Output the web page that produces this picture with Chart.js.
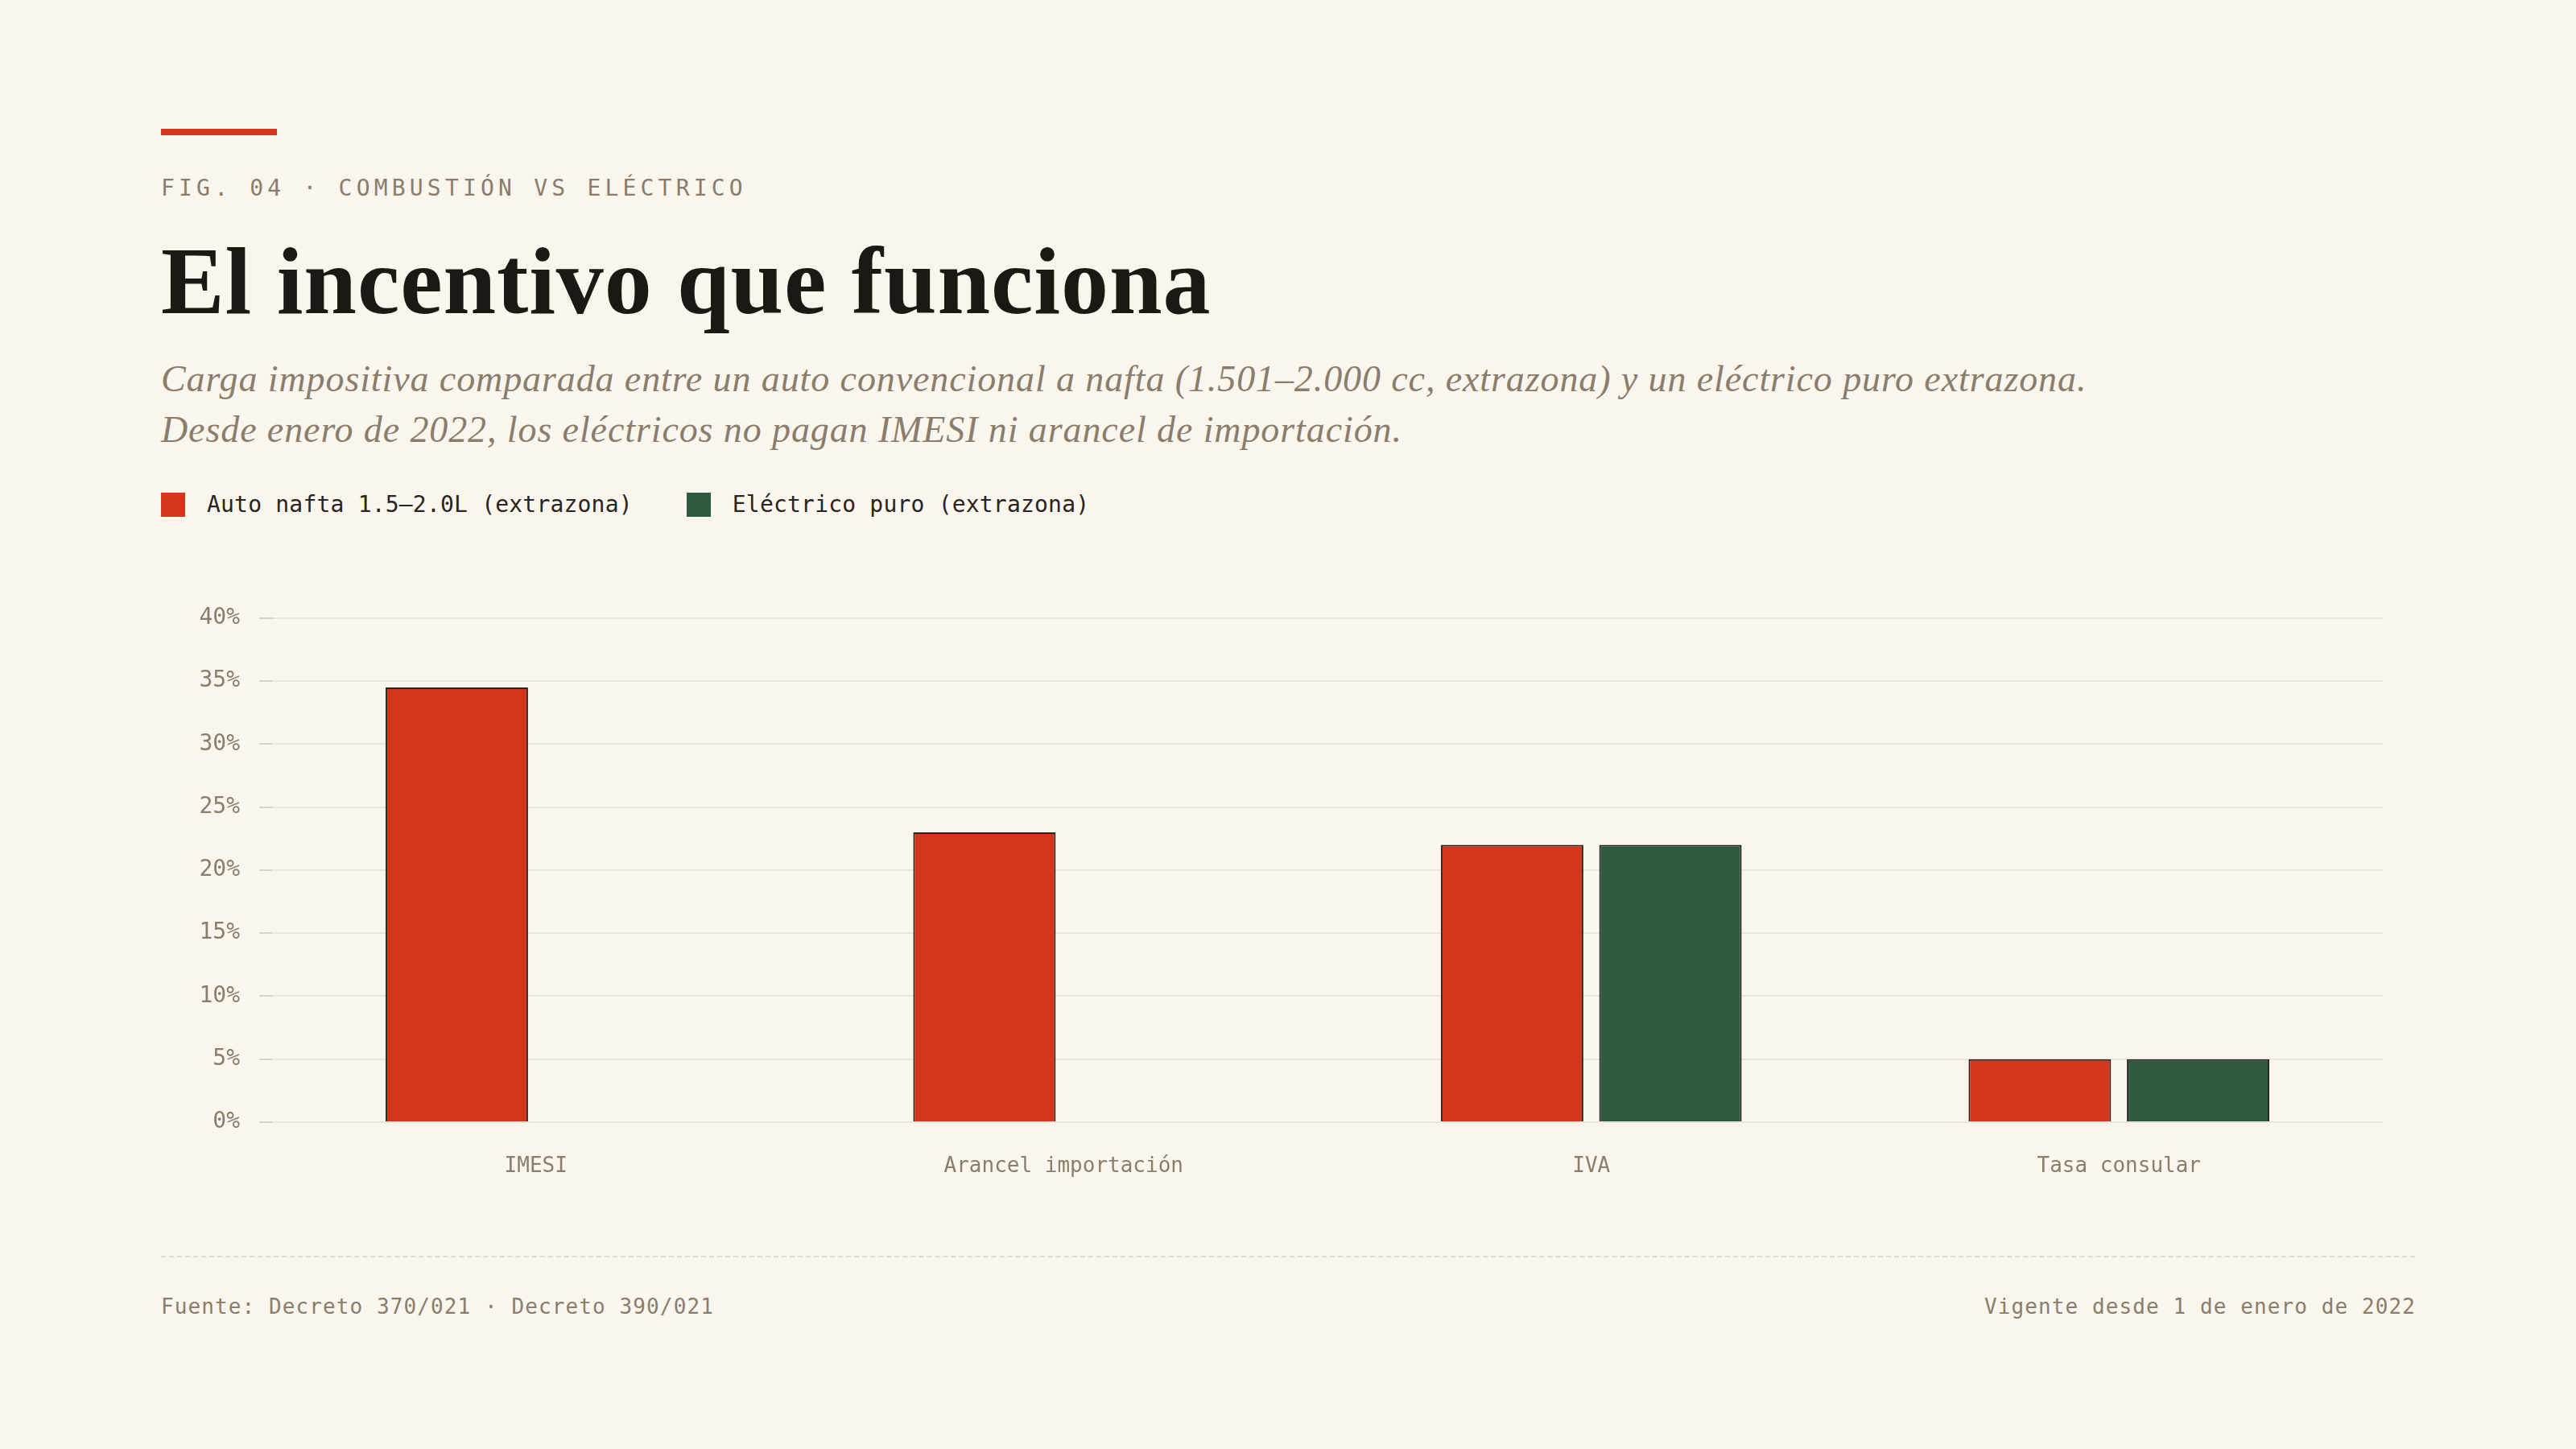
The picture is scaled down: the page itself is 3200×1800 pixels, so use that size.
<!DOCTYPE html>
<html lang="es">
<head>
<meta charset="utf-8">
<title>El incentivo que funciona</title>
<script src="https://cdn.jsdelivr.net/npm/chart.js@4.4.1/dist/chart.umd.min.js"></script>
<style>
  html, body { margin: 0; padding: 0; background: #faf6ee; }
  #page { position: relative; width: 3200px; height: 1800px; background: #faf6ee; overflow: hidden; }
  .accent { position: absolute; left: 200px; top: 160px; width: 144px; height: 8px; background: #d4361c; }
  .kicker { position: absolute; left: 200px; top: 220px; font: 28px/28px "DejaVu Sans Mono", monospace; letter-spacing: 5.2px; color: #8a7d6b; white-space: nowrap; }
  h1 { position: absolute; left: 200px; top: 291px; margin: 0; font: bold 118px/118px "Liberation Serif", serif; letter-spacing: 0.9px; color: #1c1814; white-space: nowrap; }
  .sub { position: absolute; left: 200px; top: 439px; margin: 0; font: italic 46px/63px "Liberation Serif", serif; letter-spacing: 0.9px; color: #8a7d6b; white-space: nowrap; }
  #legend { position: absolute; left: 200px; top: 612px; height: 30px; display: flex; align-items: center; font: 28px/30px "DejaVu Sans Mono", monospace; letter-spacing: 0.2px; color: #2a2420; white-space: nowrap; }
  #legend .item { display: flex; align-items: center; margin-right: 67px; }
  #legend .box { width: 30px; height: 30px; margin-right: 27px; }
  #chartWrap { position: absolute; left: 200px; top: 727px; width: 2800px; height: 748px; }
  .rule { position: absolute; left: 200px; top: 1560px; width: 2800px; border-top: 2px dashed #e2dbcf; }
  .foot { position: absolute; top: 1610px; font: 26px/26px "DejaVu Sans Mono", monospace; letter-spacing: 1.1px; color: #8a7d6b; white-space: nowrap; }
</style>
</head>
<body>
<div id="page">
  <div class="accent"></div>
  <div class="kicker">FIG. 04 · COMBUSTIÓN VS ELÉCTRICO</div>
  <h1>El incentivo que funciona</h1>
  <p class="sub">Carga impositiva comparada entre un auto convencional a nafta (1.501–2.000 cc, extrazona) y un eléctrico puro extrazona.<br>Desde enero de 2022, los eléctricos no pagan IMESI ni arancel de importación.</p>
  <div id="legend"></div>
  <div id="chartWrap"><canvas id="taxChart"></canvas></div>
  <div class="rule"></div>
  <div class="foot" style="left:200px">Fuente: Decreto 370/021 · Decreto 390/021</div>
  <div class="foot" style="right:199px">Vigente desde 1 de enero de 2022</div>
</div>
<script>
// impuestos (% sobre valor)
const categories = ['IMESI', 'Arancel importación', 'IVA', 'Tasa consular'];
const naftaValues = [34.5, 23, 22, 5];
const electricoValues = [0, 0, 22, 5];
const seriesLabels = ['Auto nafta 1.5–2.0L (extrazona)', 'Eléctrico puro (extrazona)'];
const seriesColors = ['#d4361c', '#2e5b3f'];

const monoFont = '"DejaVu Sans Mono", monospace';
const tickGrey = '#8a7d6b';

// leyenda en html
const legendEl = document.getElementById('legend');
seriesLabels.forEach((lbl, i) => {
  const item = document.createElement('div');
  item.className = 'item';
  const box = document.createElement('span');
  box.className = 'box';
  box.style.background = seriesColors[i];
  item.appendChild(box);
  item.appendChild(document.createTextNode(lbl));
  legendEl.appendChild(item);
});

const noZeroBorder = c => (c.raw === 0 ? 0 : 2);

const ctx = document.getElementById('taxChart').getContext('2d');
const taxChart = new Chart(ctx, {
  type: 'bar',
  data: {
    labels: categories,
    datasets: [
      {
        label: seriesLabels[0],
        data: naftaValues,
        backgroundColor: seriesColors[0],
        borderColor: '#2a2420',
        borderWidth: noZeroBorder
      },
      {
        label: seriesLabels[1],
        data: electricoValues,
        backgroundColor: seriesColors[1],
        borderColor: '#2a2420',
        borderWidth: noZeroBorder
      }
    ]
  },
  options: {
    responsive: true,
    maintainAspectRatio: false,
    animation: false,
    devicePixelRatio: 1,
    categoryPercentage: 0.6,
    barPercentage: 0.9,
    layout: { padding: { top: 0, right: 40, left: 0, bottom: 0 } },
    plugins: {
      legend: { display: false },
      tooltip: { enabled: false }
    },
    scales: {
      x: {
        grid: { display: false, drawTicks: false },
        border: { display: false },
        ticks: {
          color: tickGrey,
          padding: 40,
          font: { family: monoFont, size: 26 }
        },
        afterFit: s => { s.height = 81; }
      },
      y: {
        min: 0,
        max: 40,
        border: { display: false },
        grid: {
          color: '#ebe5db',
          lineWidth: 2,
          tickColor: '#d9d1c4',
          tickLength: 16
        },
        ticks: {
          stepSize: 5,
          padding: 24,
          color: tickGrey,
          font: { family: monoFont, size: 28 },
          callback: v => v + '%'
        },
        afterFit: s => { s.width = 138; }
      }
    }
  }
});
</script>
</body>
</html>
